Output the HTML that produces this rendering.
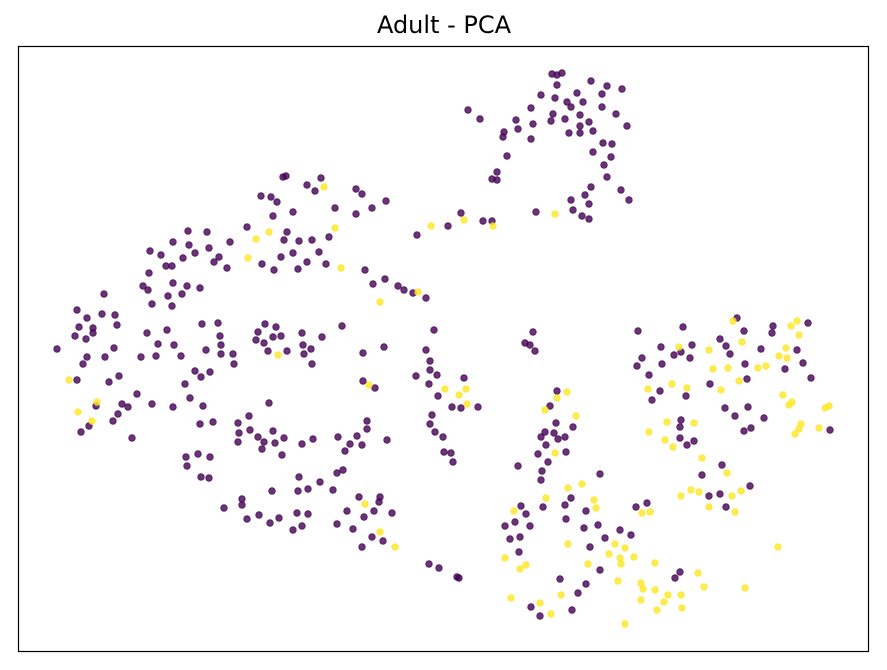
<!DOCTYPE html>
<html><head><meta charset="utf-8"><style>
body{margin:0;background:#fff;}
svg{display:block;font-family:"DejaVu Sans","Liberation Sans",sans-serif;}
</style></head><body>
<svg id="chart" width="887" height="670" viewBox="0 0 887 670">
<rect width="887" height="670" fill="#fff"/>
<text x="444" y="33" text-anchor="middle" font-size="24" fill="#000">Adult - PCA</text>
<g id="marks"></g>
<rect x="18.5" y="46.5" width="850" height="605" fill="none" stroke="#000" stroke-width="1.2"/>
</svg>
<script>
const classLabels = ["income <=50K", "income >50K"];
const classPurple = [[283,177],[286,176],[321,178],[307,185],[315,191],[261,196],[271,197],[277,202],[293,212],[273,216],[335,208],[247,227],[287,232],[284,240],[299,241],[312,240],[329,237],[281,257],[293,253],[319,252],[262,264],[274,270],[298,269],[307,262],[326,264],[188,231],[207,232],[173,242],[230,242],[150,251],[161,255],[189,245],[195,253],[209,248],[183,258],[166,266],[172,266],[219,257],[214,262],[227,268],[149,273],[143,286],[148,290],[173,283],[187,286],[200,288],[168,296],[182,294],[152,304],[172,306],[104,294],[77,310],[87,318],[102,314],[115,315],[79,327],[93,328],[93,333],[117,325],[75,336],[86,339],[57,349],[87,357],[105,357],[114,348],[147,333],[167,330],[158,344],[174,345],[141,357],[156,356],[181,356],[202,324],[218,323],[220,336],[221,345],[206,350],[221,354],[233,354],[265,324],[276,327],[258,332],[273,337],[281,336],[256,340],[264,343],[268,351],[287,351],[302,333],[322,337],[303,345],[311,349],[304,354],
[83,364],[77,380],[109,382],[119,376],[137,394],[96,406],[122,404],[128,407],[118,414],[113,421],[89,426],[81,432],[132,438],[152,404],[173,407],[195,371],[201,377],[210,372],[185,384],[190,398],[203,406],[234,364],[312,364],[200,424],[213,422],[269,403],[238,423],[249,416],[239,433],[250,430],[238,442],[258,437],[264,442],[273,431],[275,443],[284,438],[262,449],[282,455],[302,444],[313,439],[338,437],[186,457],[198,454],[210,457],[187,466],[201,477],[209,478],[299,477],[320,482],[337,473],[272,491],[298,491],[308,489],[333,490],[242,499],[242,505],[224,508],[247,519],[259,515],[270,523],[279,518],[297,513],[308,514],[293,530],[302,526],[337,524],
[356,189],[362,194],[386,201],[372,208],[356,214],[365,270],[373,284],[385,279],[398,286],[404,290],[413,293],[426,298],[417,235],[448,226],[461,213],[483,221],[492,221],[342,326],[434,330],[384,347],[363,353],[426,350],
[363,381],[375,388],[430,361],[430,370],[437,375],[416,376],[429,384],[464,378],[438,396],[452,407],[461,408],[478,407],[432,415],[430,424],[435,432],[443,437],[444,452],[451,453],[453,462],[367,421],[367,429],[387,440],[357,436],[350,444],[362,445],[345,451],[343,470],[359,497],[380,497],[379,502],[347,511],[374,511],[392,513],[364,517],[353,529],[372,537],[383,541],[362,547],[429,564],[439,568],[457,577],[459,578],
[552,74],[557,75],[562,73],[591,81],[607,86],[622,89],[557,85],[541,95],[555,98],[577,93],[602,94],[567,102],[583,102],[571,107],[531,108],[602,107],[468,110],[480,119],[516,120],[553,114],[551,121],[565,119],[533,124],[580,115],[589,122],[580,126],[616,114],[627,126],[504,132],[518,129],[503,137],[569,133],[580,133],[593,131],[531,139],[603,143],[612,144],[593,152],[611,157],[507,156],[604,165],[497,172],[492,179],[497,180],[607,177],[591,187],[621,190],[585,195],[629,200],[571,200],[589,204],[573,210],[582,216],[589,219],[536,212],
[533,332],[525,343],[530,345],[535,351],[557,391],[550,406],[556,423],[545,432],[554,433],[541,437],[558,439],[565,437],[573,427],[546,445],[538,454],[566,452],[548,462],[518,466],[542,471],[541,480],[600,474],[571,498],[521,506],[543,507],[565,505],[586,511],[526,514],[515,522],[505,526],[530,526],[566,519],[584,528],[598,525],[510,539],[520,537],[605,538],[620,530],[519,552],[590,547],[600,570],[631,535],[560,579],[586,584],[578,593],[531,607],[540,616],[572,610],
[638,331],[683,327],[737,318],[744,331],[773,326],[772,333],[808,323],[661,347],[692,345],[674,355],[681,352],[690,358],[642,358],[637,366],[662,364],[649,375],[720,339],[726,346],[730,354],[761,349],[797,350],[803,363],[745,364],[785,369],[811,378],[747,379],[710,384],[660,391],[686,396],[652,400],[725,408],[748,407],[735,416],[764,418],[744,431],[751,428],[830,430],[681,420],[680,427],[680,438],[694,441],[687,445],[722,465],[702,475],[750,486],[720,494],[709,496],[726,507],[647,503],[636,507],[680,572],[675,578]];
const classYellow = [[324,187],[269,232],[256,239],[335,228],[248,258],[341,268],[278,355],[69,380],[97,402],[78,412],[92,421],[418,292],[380,302],[431,226],[464,220],[493,226],[369,385],[445,389],[459,395],[466,389],[467,404],[365,504],[380,532],[395,547],[555,214],
[567,392],[557,398],[545,410],[576,416],[555,453],[568,488],[582,484],[546,498],[594,500],[596,508],[514,511],[568,544],[505,558],[520,569],[526,565],[588,564],[615,544],[625,548],[609,554],[620,558],[621,564],[634,557],[618,581],[641,583],[643,589],[655,590],[561,595],[511,598],[540,603],[551,614],[625,624],
[733,321],[791,326],[797,321],[799,335],[679,347],[709,350],[742,342],[786,348],[779,356],[787,358],[713,369],[728,368],[758,368],[766,366],[739,381],[721,390],[648,389],[672,384],[687,388],[783,395],[792,402],[789,405],[825,408],[829,406],[801,424],[799,429],[795,434],[819,428],[667,422],[694,423],[649,432],[665,440],[673,447],[702,458],[727,473],[741,491],[732,496],[699,492],[691,490],[681,496],[709,507],[735,512],[642,513],[650,512],[778,547],[745,588],[698,573],[704,587],[655,563],[668,595],[681,595],[664,602],[657,610],[682,608],[641,600]];

const xDomain=[18,869], yDomain=[46,652];
function xScale(v){return 18+(v-xDomain[0])/(xDomain[1]-xDomain[0])*851;}
function yScale(v){return 46+(v-yDomain[0])/(yDomain[1]-yDomain[0])*606;}
const g=document.getElementById('marks');
const NS='http://www.w3.org/2000/svg';
function draw(list,color,name){
  list.forEach(function(p){
    const c=document.createElementNS(NS,'circle');
    c.setAttribute('cx',xScale(p[0]));
    c.setAttribute('cy',yScale(p[1]));
    c.setAttribute('r',3.3);
    c.setAttribute('fill',color);
    c.setAttribute('fill-opacity',0.8);
    c.setAttribute('stroke',color);
    c.setAttribute('stroke-opacity',0.8);
    c.setAttribute('stroke-width',0.8);
    
    
    g.appendChild(c);
  });
}
draw(classPurple,'#440154','point-class-0');
draw(classYellow,'#fde725','point-class-1');
</script>
</body></html>
